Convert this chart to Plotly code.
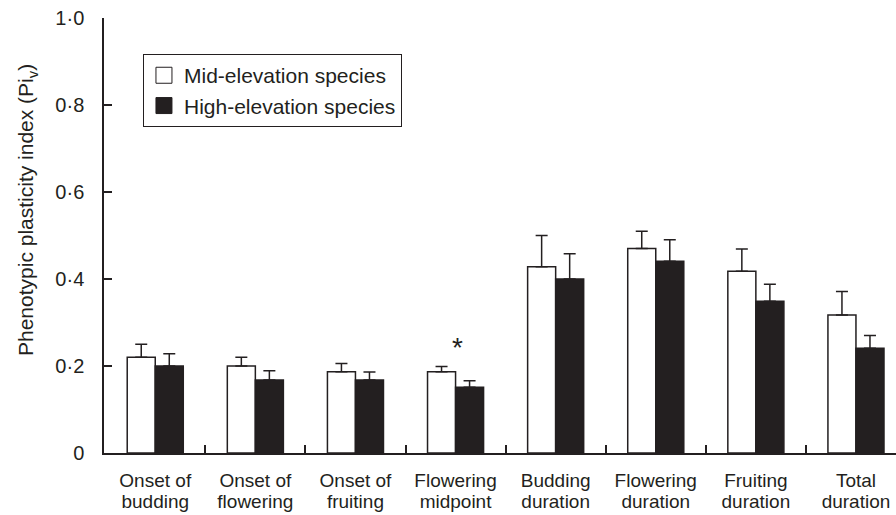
import plotly.graph_objects as go

# ---- data ----
categories_line1 = ["Onset of", "Onset of", "Onset of", "Flowering", "Budding", "Flowering", "Fruiting", "Total"]
categories_line2 = ["budding", "flowering", "fruiting", "midpoint", "duration", "duration", "duration", "duration"]
mid_values = [0.22, 0.20, 0.187, 0.187, 0.428, 0.470, 0.418, 0.317]
mid_errors = [0.03, 0.02, 0.019, 0.012, 0.072, 0.040, 0.051, 0.054]
high_values = [0.20, 0.168, 0.168, 0.151, 0.400, 0.441, 0.349, 0.241]
high_errors = [0.028, 0.021, 0.018, 0.015, 0.058, 0.049, 0.039, 0.029]
y_tickvals = [0, 0.2, 0.4, 0.6, 0.8, 1.0]
y_ticktext = ["0", "0·2", "0·4", "0·6", "0·8", "1·0"]
series_names = ["Mid-elevation species", "High-elevation species"]
signif_index = 3

INK = "#231f20"
FONT = "Liberation Sans, Arial, Helvetica, sans-serif"
xpos = list(range(len(categories_line1)))
boundaries = [i + 0.5 for i in xpos[:-1]]
xrange = [-0.512, 7.4]

fig = go.Figure()

fig.add_trace(go.Bar(
    x=xpos, y=mid_values, name=series_names[0], showlegend=False,
    marker=dict(color="white", line=dict(color=INK, width=1.5)),
    error_y=dict(type="data", symmetric=False, array=mid_errors,
                 arrayminus=[0] * len(mid_errors), color=INK, thickness=1.5, width=6),
))
fig.add_trace(go.Bar(
    x=xpos, y=high_values, name=series_names[1], showlegend=False,
    marker=dict(color=INK, line=dict(color=INK, width=1.5)),
    error_y=dict(type="data", symmetric=False, array=high_errors,
                 arrayminus=[0] * len(high_errors), color=INK, thickness=1.5, width=6),
))

# legend entries
fig.add_trace(go.Scatter(x=[None], y=[None], mode="markers", name=series_names[0],
                         legendgroup="a",
                         marker=dict(symbol="square", size=16, color="white",
                                     line=dict(color=INK, width=1))))
fig.add_trace(go.Scatter(x=[None], y=[None], mode="markers", name=series_names[1],
                         legendgroup="b",
                         marker=dict(symbol="square", size=16, color=INK,
                                     line=dict(color=INK, width=1))))

# helper traces for category label axes
fig.add_trace(go.Scatter(x=[None], y=[None], xaxis="x2", showlegend=False, hoverinfo="skip"))
fig.add_trace(go.Scatter(x=[None], y=[None], xaxis="x3", showlegend=False, hoverinfo="skip"))

fig.update_layout(
    width=896, height=515,
    margin=dict(l=104, r=0, t=18, b=62),
    paper_bgcolor="white", plot_bgcolor="white",
    font=dict(family=FONT, size=19, color=INK),
    barmode="group", bargap=0.44, bargroupgap=0,
    showlegend=True,
    legend=dict(x=0.0492, y=0.917, xanchor="left", yanchor="top",
                bordercolor=INK, borderwidth=1, bgcolor="white",
                font=dict(size=21, color=INK), tracegroupgap=0),
    xaxis=dict(type="linear", range=xrange, showline=True, linecolor=INK, linewidth=1.5,
               tickmode="array", tickvals=boundaries, showticklabels=False,
               ticks="inside", ticklen=8, tickwidth=1.5, tickcolor=INK,
               showgrid=False, zeroline=False, automargin=False),
    xaxis2=dict(type="linear", overlaying="x", anchor="y", side="bottom", range=xrange,
                tickmode="array", tickvals=xpos, ticktext=categories_line1,
                ticks="", showline=False, showgrid=False, zeroline=False,
                ticklabelstandoff=14, automargin=False, ticklabeloverflow="allow"),
    xaxis3=dict(type="linear", overlaying="x", anchor="y", side="bottom", range=xrange,
                tickmode="array", tickvals=xpos, ticktext=categories_line2,
                ticks="", showline=False, showgrid=False, zeroline=False,
                ticklabelstandoff=35, automargin=False, ticklabeloverflow="allow"),
    yaxis=dict(range=[0, 1.0], showline=True, linecolor=INK, linewidth=1.5,
               tickmode="array", tickvals=y_tickvals, ticktext=y_ticktext,
               tickfont=dict(size=20),
               ticks="inside", ticklen=8, tickwidth=1.5, tickcolor=INK,
               showgrid=False, zeroline=False, ticklabelstandoff=14, automargin=False,
               ticklabeloverflow="allow"),
    annotations=[
        dict(text="Phenotypic plasticity index (Pi<sub>v</sub>)", textangle=-90,
             xref="paper", yref="paper", x=-0.097, y=0.559,
             xanchor="center", yanchor="middle", showarrow=False,
             font=dict(size=21, color=INK)),
        dict(text="*", xref="x", yref="y", x=signif_index + 0.015,
             y=mid_values[signif_index] + mid_errors[signif_index] + 0.043,
             xanchor="center", yanchor="middle", showarrow=False,
             font=dict(size=28, color=INK, family="Liberation Sans")),
    ],
)

# remove the browser's default page margin so the figure fills the window exactly
fig.write_html("out.html", config={"displayModeBar": False},
               post_script="document.body.style.margin='0';")
